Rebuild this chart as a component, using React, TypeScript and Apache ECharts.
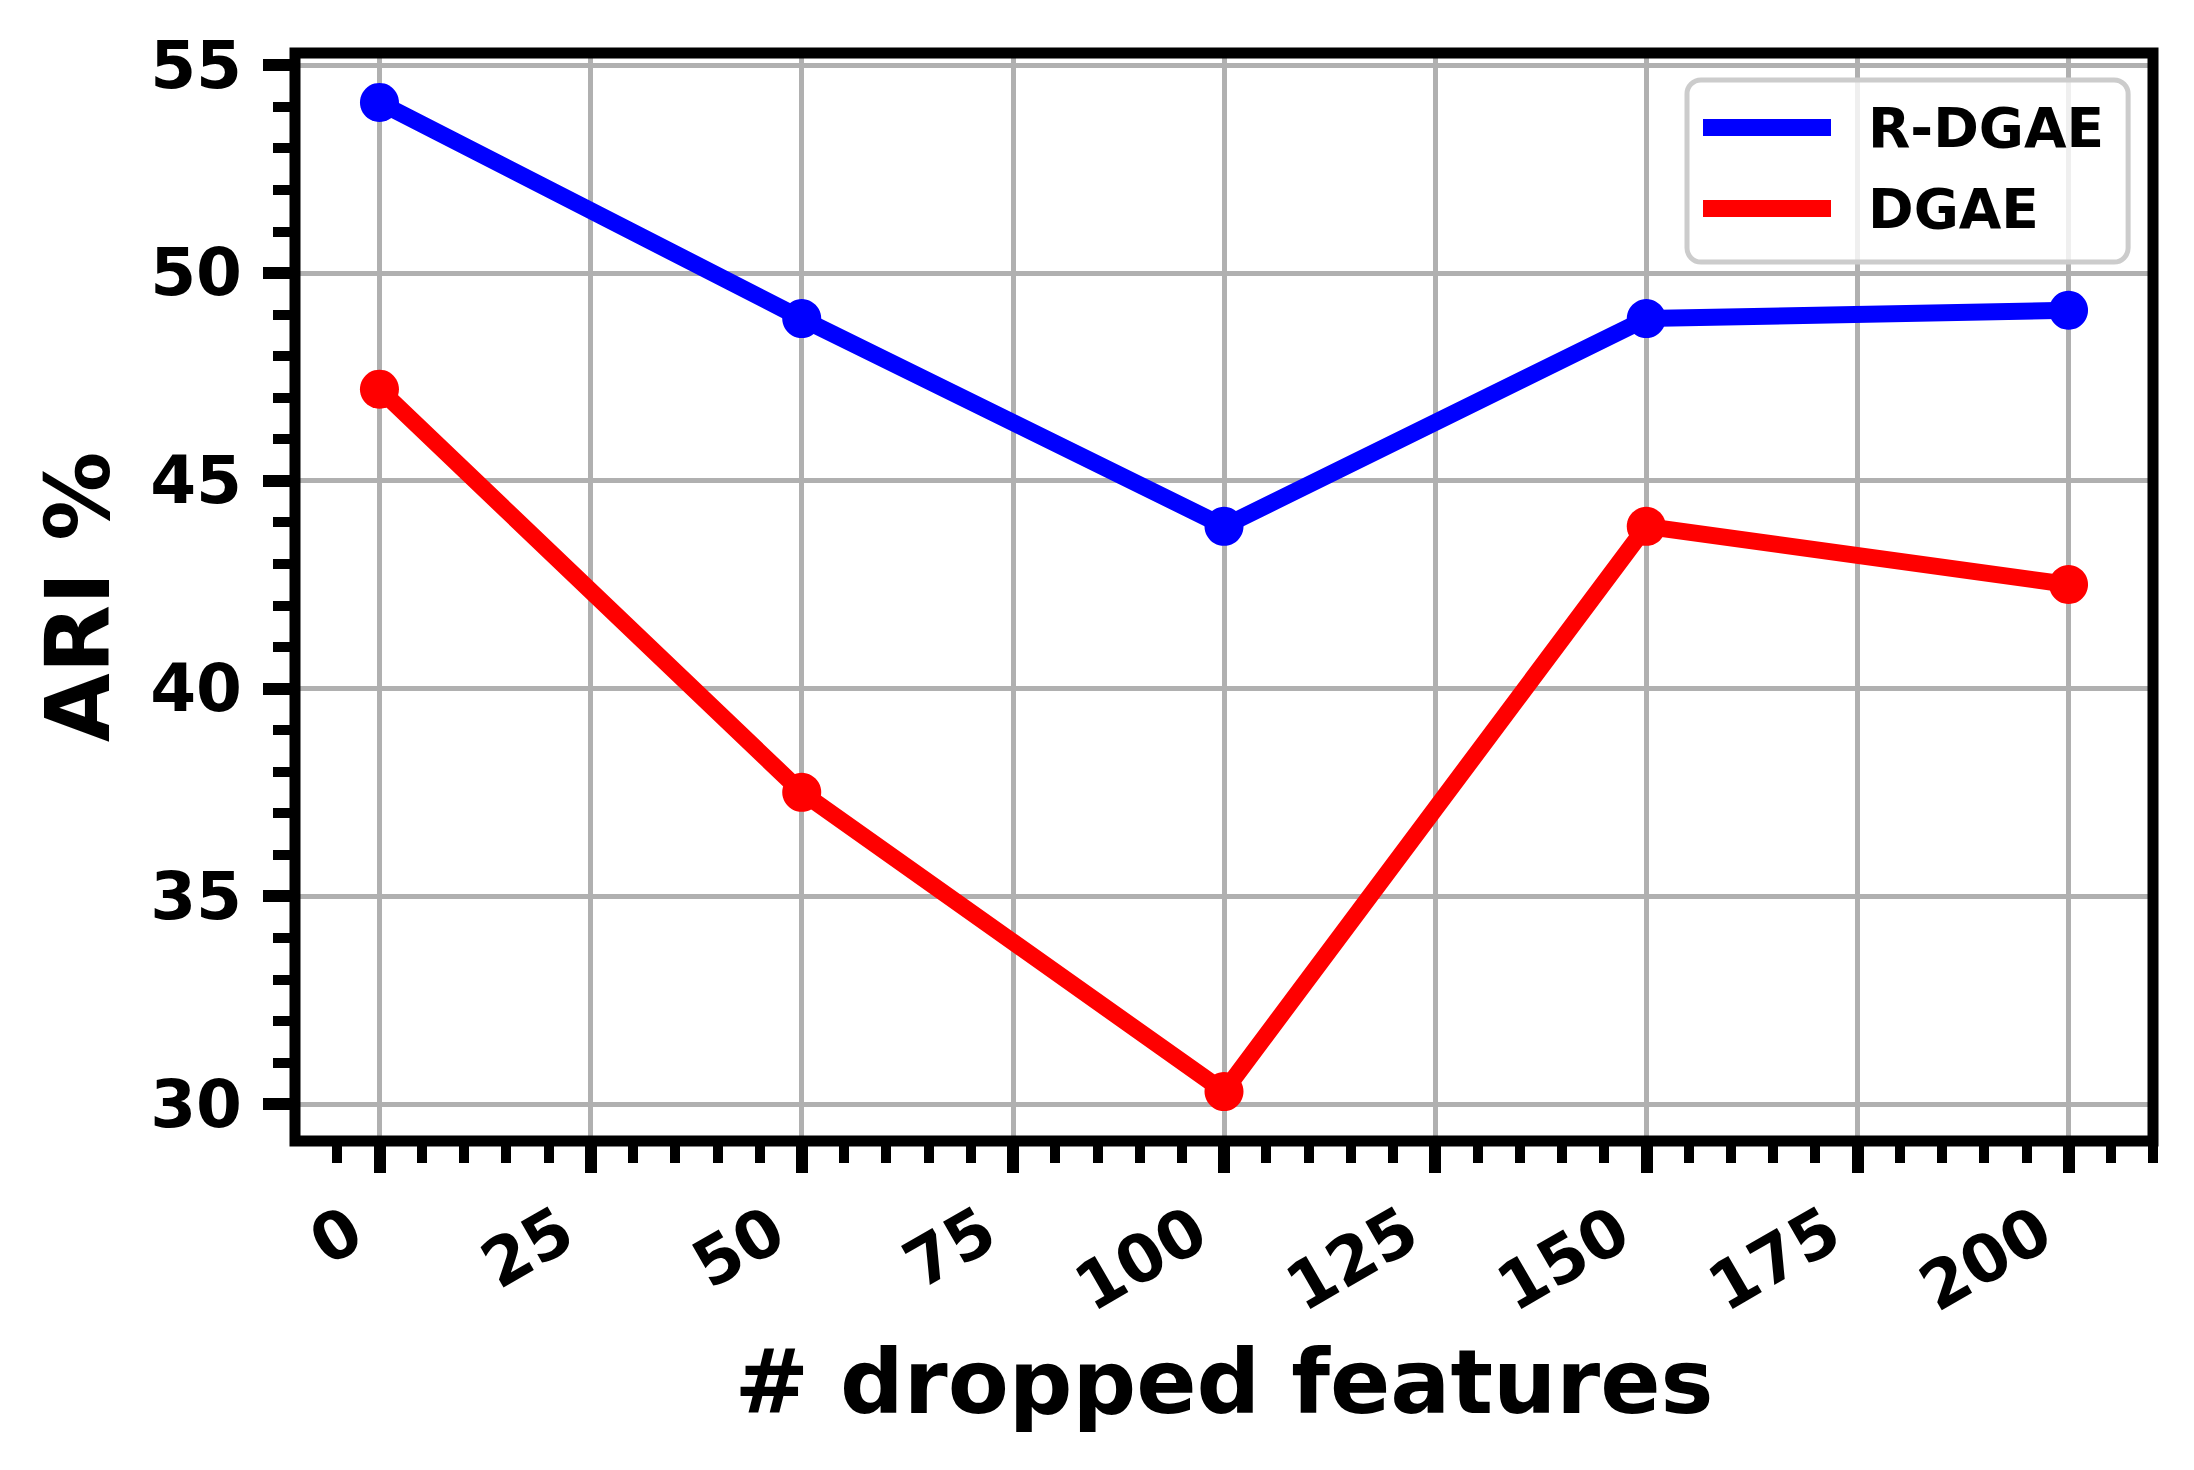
import React, { useEffect, useRef } from "react";
import * as echarts from "echarts";

const xValues = [0, 50, 100, 150, 200];
const rdgae = [54.1, 48.9, 43.9, 48.9, 49.1];
const dgae = [47.2, 37.5, 30.3, 43.9, 42.5];
const seriesNames = ["R-DGAE", "DGAE"];

const xMajorTicks = [0, 25, 50, 75, 100, 125, 150, 175, 200];
const xMinorTicks = [-5, 5, 10, 15, 20, 30, 35, 40, 45, 55, 60, 65, 70, 80, 85, 90, 95, 105, 110, 115, 120, 130, 135, 140, 145, 155, 160, 165, 170, 180, 185, 190, 195, 205, 210];
const yMajorTicks = [30, 35, 40, 45, 50, 55];
const yMinorTicks = [31, 32, 33, 34, 36, 37, 38, 39, 41, 42, 43, 44, 46, 47, 48, 49, 51, 52, 53, 54];

const FONT = "DejaVu Sans";

export default function App() {
  const ref = useRef<HTMLDivElement>(null);
  useEffect(() => {
    if (!ref.current) return;
    const chart = echarts.init(ref.current, null, { renderer: "svg" });
    const grid = { left: 295, top: 53, right: 41, bottom: 329 };
    const xMin = -10, xMax = 210, yMin = 29.11, yMax = 55.29;
    chart.setOption({
      animation: false,
      backgroundColor: "#ffffff",
      grid: { ...grid, show: true, borderColor: "#000000", borderWidth: 11, backgroundColor: "transparent", z: 10 },
      legend: {
        data: seriesNames,
        orient: "vertical",
        left: 1687,
        top: 80,
        padding: [20, 24, 26, 16],
        itemWidth: 128,
        itemHeight: 17,
        itemGap: 26,
        icon: "rect",
        backgroundColor: "rgba(255,255,255,0.8)",
        borderColor: "#cccccc",
        borderWidth: 5,
        borderRadius: 14,
        textStyle: { fontSize: 55, fontWeight: "bold", fontFamily: FONT, color: "#000", padding: [0, 0, 0, 32], lineHeight: 55 },
      },
      xAxis: [
        {
          type: "value",
          min: xMin,
          max: xMax,
          position: "bottom",
          name: "# dropped features",
          nameLocation: "middle",
          nameGap: 196,
          nameTextStyle: { fontSize: 89, fontWeight: "bold", fontFamily: FONT, color: "#000" },
          axisLine: { show: false, onZero: false },
          axisTick: { show: true, customValues: xMajorTicks, length: 32, lineStyle: { color: "#000", width: 12 } },
          axisLabel: {
            show: true,
            customValues: xMajorTicks,
            rotate: 30,
            margin: 70,
            padding: [0, 27, 0, 0],
            fontSize: 66,
            fontWeight: "bold",
            fontFamily: FONT,
            color: "#000",
          },
          splitLine: { show: true, lineStyle: { color: "#b0b0b0", width: 5 } },
        },
        {
          type: "value",
          min: xMin,
          max: xMax,
          position: "bottom",
          axisLine: { show: false, onZero: false },
          axisTick: { show: true, customValues: xMinorTicks, length: 22, lineStyle: { color: "#000", width: 10 } },
          axisLabel: { show: false },
          splitLine: { show: false },
        },
      ],
      yAxis: [
        {
          type: "value",
          min: yMin,
          max: yMax,
          position: "left",
          name: "ARI %",
          nameLocation: "middle",
          nameGap: 173,
          nameTextStyle: { fontSize: 89, fontWeight: "bold", fontFamily: FONT, color: "#000" },
          axisLine: { show: false, onZero: false },
          axisTick: { show: true, customValues: yMajorTicks, length: 32, lineStyle: { color: "#000", width: 12 } },
          axisLabel: { show: true, customValues: yMajorTicks, margin: 53, fontSize: 66, fontWeight: "bold", fontFamily: FONT, color: "#000" },
          splitLine: { show: true, lineStyle: { color: "#b0b0b0", width: 5 } },
        },
        {
          type: "value",
          min: yMin,
          max: yMax,
          position: "left",
          axisLine: { show: false, onZero: false },
          axisTick: { show: true, customValues: yMinorTicks, length: 22, lineStyle: { color: "#000", width: 10 } },
          axisLabel: { show: false },
          splitLine: { show: false },
        },
      ],
      series: [
        {
          name: seriesNames[0],
          type: "line",
          xAxisIndex: 0,
          yAxisIndex: 0,
          data: xValues.map((x, i) => [x, rdgae[i]]),
          symbol: "circle",
          symbolSize: 39,
          showSymbol: true,
          color: "#0000ff",
          lineStyle: { color: "#0000ff", width: 17, join: "round" },
          itemStyle: { color: "#0000ff" },
          emphasis: { disabled: true },
        },
        {
          name: seriesNames[1],
          type: "line",
          xAxisIndex: 0,
          yAxisIndex: 0,
          data: xValues.map((x, i) => [x, dgae[i]]),
          symbol: "circle",
          symbolSize: 39,
          showSymbol: true,
          color: "#ff0000",
          lineStyle: { color: "#ff0000", width: 17, join: "round" },
          itemStyle: { color: "#ff0000" },
          emphasis: { disabled: true },
        },
      ],
    });
    return () => chart.dispose();
  }, []);
  return <div ref={ref} style={{ position: "absolute", left: 0, top: 0, width: 2194, height: 1470 }} />;
}
